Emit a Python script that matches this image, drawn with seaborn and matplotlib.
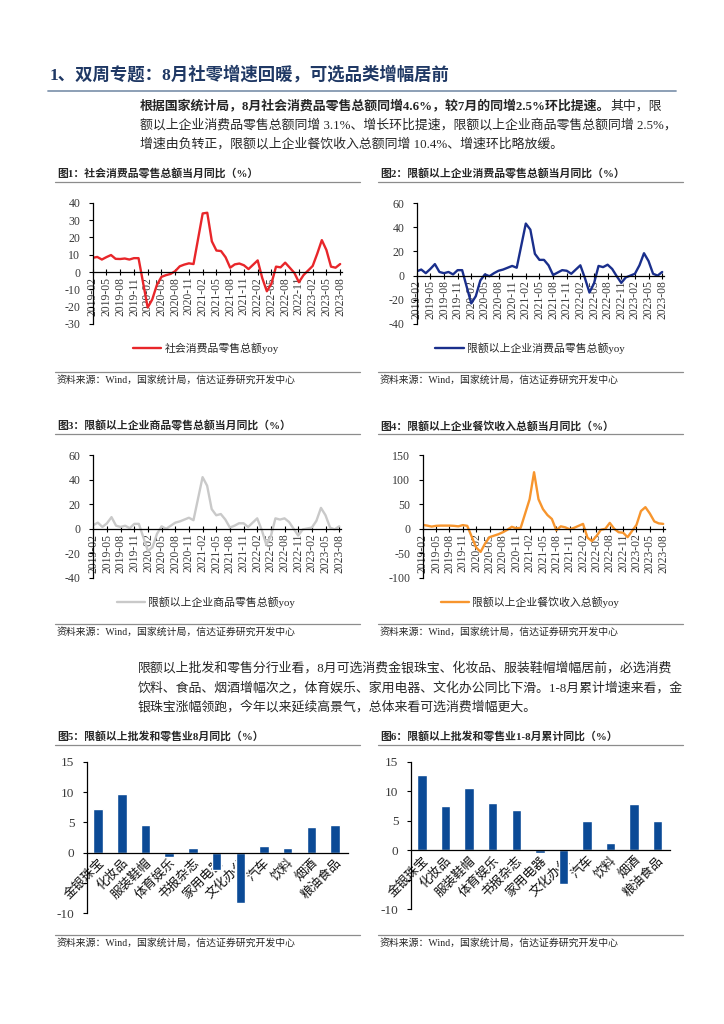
import matplotlib
matplotlib.use('Agg')
import matplotlib.pyplot as plt
from matplotlib.lines import Line2D
import seaborn as sns
import pandas as pd

sns.set_style('ticks')
FAM = ['Liberation Serif', 'Noto Sans CJK SC', 'DejaVu Sans']
plt.rcParams['font.family'] = FAM
plt.rcParams['axes.unicode_minus'] = False

# ---------------- data ----------------
month_labels = [f'{y}-{m:02d}' for y in range(2019, 2024) for m in range(2, 13)
                if not (y == 2023 and m > 8)]
tick_labels = ['2019-02', '2019-05', '2019-08', '2019-11', '2020-02', '2020-05',
               '2020-08', '2020-11', '2021-02', '2021-05', '2021-08', '2021-11',
               '2022-02', '2022-05', '2022-08', '2022-11', '2023-02', '2023-05',
               '2023-08']

retail_total = [8.2, 8.7, 7.2, 8.6, 9.8, 7.6, 7.5, 7.8, 7.2, 8.0, 8.0,
                -20.5, -15.8, -7.5, -2.8, -1.8, -1.1, 0.5, 3.3, 4.3, 5.0, 4.6,
                33.8, 34.2, 17.7, 12.4, 12.1, 8.5, 2.5, 4.4, 4.9, 3.9, 1.7,
                6.7, -3.5, -11.1, -6.7, 3.1, 2.7, 5.4, 2.5, -0.5, -5.9, -1.8,
                3.5, 10.6, 18.4, 12.7, 3.1, 2.5, 4.6]
retail_above = [3.5, 5.0, 2.0, 5.5, 9.5, 3.0, 2.0, 3.0, 1.0, 4.5, 4.5,
                -23.0, -17.0, -4.0, 1.0, -0.5, 2.0, 4.0, 5.0, 6.5, 8.0, 6.5,
                43.0, 38.0, 18.0, 13.0, 13.0, 8.5, 0.5, 2.5, 4.5, 4.0, 1.5,
                8.5, -2.0, -14.0, -6.5, 8.0, 7.0, 9.0, 5.5, -0.5, -6.0, -1.5,
                1.5, 8.5, 18.5, 12.0, 1.5, 0.0, 3.0]
retail_goods = [3.0, 5.0, 1.5, 4.5, 9.5, 2.5, 1.5, 2.5, 0.5, 4.0, 4.0,
                -18.0, -15.0, -4.0, 2.0, 0.0, 2.5, 5.0, 6.0, 7.5, 9.0, 7.0,
                42.0, 35.0, 16.0, 11.0, 12.0, 7.5, 1.0, 2.5, 4.5, 4.5, 1.5,
                8.5, -1.0, -13.0, -6.0, 8.5, 7.5, 8.5, 5.5, 0.0, -5.5, -0.5,
                1.0, 6.5, 17.0, 11.0, 1.0, -0.5, 2.0]
catering = [8.0, 6.5, 4.5, 6.0, 6.5, 6.5, 6.5, 6.0, 5.0, 7.5, 6.0,
            -38.0, -47.0, -30.0, -17.0, -14.0, -11.0, -7.0, -2.0, 4.0, 1.0, 2.0,
            60.0, 115.0, 60.0, 40.0, 28.0, 20.0, -3.0, 5.0, 3.0, -1.0, 2.0,
            10.0, -18.0, -25.0, -15.0, -2.0, 0.0, 12.0, 0.0, -7.0, -8.0, -17.0,
            8.0, 36.0, 44.0, 31.0, 15.0, 11.0, 10.0]

categories = ['金银珠宝', '化妆品', '服装鞋帽', '体育娱乐', '书报杂志', '家用电器',
              '文化办公', '汽车', '饮料', '烟酒', '粮油食品']
aug_yoy = [7.2, 9.7, 4.5, -0.7, 0.7, -2.9, -8.4, 1.1, 0.8, 4.3, 4.5]
ytd_yoy = [12.8, 7.5, 10.6, 8.0, 6.8, -0.4, -5.8, 4.9, 1.2, 7.8, 4.9]
bar_yticks = [-10, -5, 0, 5, 10, 15]
bar_yticklabels = ['-10', '', '0', '5', '10', '15']

# ---------------- figure ----------------
W, H = 724, 1024
fig = plt.figure(figsize=(W / 100, H / 100), dpi=100)


def fx(x):
    return x / W


def fy(y):
    return 1 - y / H


def hline(x0, x1, y, color='#8c8c8c', lw=0.9):
    fig.add_artist(Line2D([fx(x0), fx(x1)], [fy(y), fy(y)],
                          transform=fig.transFigure, color=color, lw=lw))


def month_pos(lbl):
    y, m = lbl.split('-')
    return (int(y) - 2019) * 12 + int(m) - 2


TXT = '#262626'
TICK = '#3a3a3a'
PFS = 9.3

# heading
fig.text(fx(50), fy(75), '1、双周专题：8月社零增速回暖，可选品类增幅居前',
         fontsize=12.5, weight='bold', color='#1f3864', va='center')
hline(48, 676, 91, color='#8497b0', lw=1.3)

# paragraph 1
renderer = fig.canvas.get_renderer()
p1_bold = '根据国家统计局，8月社会消费品零售总额同增4.6%，较7月的同增2.5%环比提速。'
t = fig.text(fx(140), fy(106), p1_bold, fontsize=PFS, weight='bold', color=TXT, va='center')
bb = t.get_window_extent(renderer=renderer)
fig.text(bb.x1 / fig.bbox.width, fy(106), '其中，限', fontsize=PFS, color=TXT, va='center')
fig.text(fx(140), fy(125), '额以上企业消费品零售总额同增 3.1%、增长环比提速，限额以上企业商品零售总额同增 2.5%，',
         fontsize=PFS, color=TXT, va='center')
fig.text(fx(140), fy(144), '增速由负转正，限额以上企业餐饮收入总额同增 10.4%、增速环比略放缓。',
         fontsize=PFS, color=TXT, va='center')

# paragraph 2
fig.text(fx(138), fy(668), '限额以上批发和零售分行业看，8月可选消费金银珠宝、化妆品、服装鞋帽增幅居前，必选消费',
         fontsize=PFS, color=TXT, va='center')
fig.text(fx(138), fy(688), '饮料、食品、烟酒增幅次之，体育娱乐、家用电器、文化办公同比下滑。1-8月累计增速来看，金',
         fontsize=PFS, color=TXT, va='center')
fig.text(fx(138), fy(707), '银珠宝涨幅领跑，今年以来延续高景气，总体来看可选消费增幅更大。',
         fontsize=PFS, color=TXT, va='center')

SRC = '资料来源：Wind，国家统计局，信达证券研究开发中心'


def frame(x0, x1, title, ty, line_y, src_line_y, src_y):
    fig.text(fx(x0 + 2), fy(ty), title, fontsize=7.8, weight='bold', color=TXT, va='center')
    hline(x0, x1, line_y)
    hline(x0, x1, src_line_y)
    fig.text(fx(x0 + 2), fy(src_y), SRC, fontsize=7.1, color=TXT, va='center')


def line_chart(left, right, top, bottom, ymin, ymax, ystep, values, color, label, lx, ly):
    ax = fig.add_axes([fx(left), fy(bottom), fx(right) - fx(left), fy(top) - fy(bottom)])
    df = pd.DataFrame({'m': [month_pos(s) for s in month_labels], 'v': values})
    sns.lineplot(data=df, x='m', y='v', color=color, lw=1.7, ax=ax, label=label)
    ax.set_xlim(0, 54.4)
    ax.set_ylim(ymin, ymax)
    ax.set_yticks(list(range(ymin, ymax + 1, ystep)))
    ax.set_xticks([month_pos(s) for s in tick_labels])
    ax.set_xticklabels(tick_labels)
    ax.set_xlabel('')
    ax.set_ylabel('')
    for s in ['top', 'right']:
        ax.spines[s].set_visible(False)
    ax.spines['bottom'].set_position(('data', 0))
    ax.spines['bottom'].set_color('black')
    ax.spines['left'].set_color('black')
    ax.spines['bottom'].set_linewidth(0.9)
    ax.spines['left'].set_linewidth(0.9)
    ax.tick_params(axis='x', direction='inout', length=5, width=0.8, pad=1, colors='black',
                   labelcolor=TICK, labelrotation=90, labelsize=8.4)
    ax.tick_params(axis='y', direction='out', length=3, width=0.8, pad=6, colors='black',
                   labelcolor=TICK, labelsize=8.6)
    ax.set_facecolor('none')
    ax.legend(loc='center', bbox_to_anchor=(fx(lx), fy(ly)), bbox_transform=fig.transFigure,
              frameon=False, fontsize=7.8, handlelength=2.6, handletextpad=0.3,
              labelcolor=TXT)
    return ax


def bar_chart(left, right, top, bottom, values, xmax):
    ax = fig.add_axes([fx(left), fy(bottom), fx(right) - fx(left), fy(top) - fy(bottom)])
    sns.barplot(x=categories, y=values, color='#0b4a96', saturation=1, width=0.4, ax=ax)
    ax.set_xlim(-0.47, xmax)
    ax.set_ylim(-10, 15)
    ax.set_yticks(bar_yticks)
    ax.set_yticklabels(bar_yticklabels)
    ax.set_xlabel('')
    ax.set_ylabel('')
    for s in ['top', 'right']:
        ax.spines[s].set_visible(False)
    ax.spines['bottom'].set_position(('data', 0))
    ax.spines['bottom'].set_color('black')
    ax.spines['left'].set_color('black')
    ax.spines['bottom'].set_linewidth(0.9)
    ax.spines['left'].set_linewidth(0.9)
    ax.tick_params(axis='x', length=0, pad=3)
    ax.tick_params(axis='y', direction='out', length=3, width=0.8, pad=6, colors='black',
                   labelcolor=TICK, labelsize=9.5)
    for lbl in ax.get_xticklabels():
        lbl.set_rotation(45)
        lbl.set_ha('right')
        lbl.set_va('top')
        lbl.set_rotation_mode('anchor')
        lbl.set_fontsize(9.2)
        lbl.set_color('#111111')
    ax.set_facecolor('none')
    return ax


# row 1
frame(55, 360, '图1：社会消费品零售总额当月同比（%）', 174, 182, 372, 380)
frame(378, 683, '图2：限额以上企业消费品零售总额当月同比（%）', 174, 182, 372, 380)
line_chart(92.7, 342, 202.7, 324, -30, 40, 10, retail_total, '#e8262a',
           '社会消费品零售总额yoy', 206, 348)
line_chart(416.7, 664, 203, 324, -40, 60, 20, retail_above, '#1a2f8c',
           '限额以上企业消费品零售总额yoy', 530, 348)

# row 2
frame(55, 360, '图3：限额以上企业商品零售总额当月同比（%）', 426, 434, 624, 632)
frame(378, 683, '图4：限额以上企业餐饮收入总额当月同比（%）', 426, 434, 624, 632)
line_chart(93.3, 341, 455, 578, -40, 60, 20, retail_goods, '#c9c9c9',
           '限额以上企业商品零售总额yoy', 206, 602)
line_chart(422.7, 665, 455, 578, -100, 150, 50, catering, '#f7952d',
           '限额以上企业餐饮收入总额yoy', 530, 602)

# row 3
frame(55, 360, '图5：限额以上批发和零售业8月同比（%）', 737, 745, 935, 943)
frame(378, 683, '图6：限额以上批发和零售业1-8月累计同比（%）', 737, 745, 935, 943)
bar_chart(87, 348, 762, 913, aug_yoy, 10.55)
bar_chart(411, 670, 762, 909, ytd_yoy, 10.52)

fig.savefig('out.png', dpi=100, facecolor='white')
